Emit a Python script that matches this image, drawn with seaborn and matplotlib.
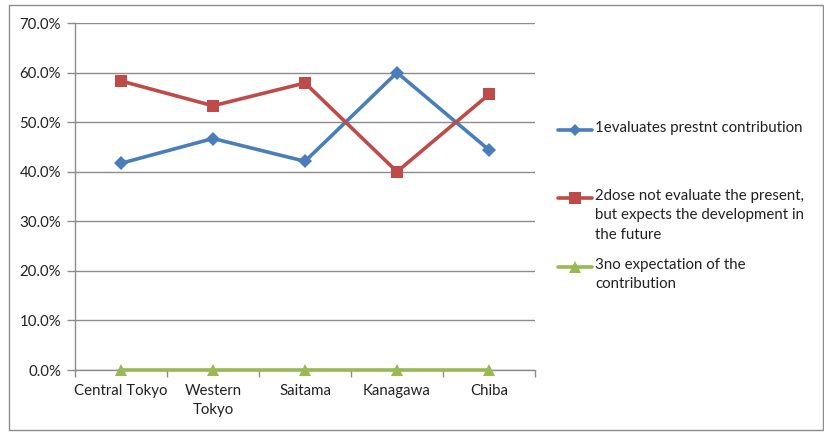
import matplotlib
matplotlib.use("Agg")
import matplotlib.pyplot as plt
import matplotlib.ticker as mticker
from matplotlib.lines import Line2D
from matplotlib.patches import Rectangle
import seaborn as sns
import pandas as pd

regions = ["Central Tokyo", "Western\nTokyo", "Saitama", "Kanagawa", "Chiba"]
evaluates_present = [41.7, 46.7, 42.1, 60.0, 44.4]
expects_future = [58.3, 53.3, 57.9, 40.0, 55.6]
no_expectation = [0.0, 0.0, 0.0, 0.0, 0.0]

series_names = [
    "1evaluates prestnt contribution",
    "2dose not evaluate the present,\nbut expects the development in\nthe future",
    "3no expectation of the\ncontribution",
]
series_values = [evaluates_present, expects_future, no_expectation]
colors = ["#4A7EBB", "#BE4B48", "#98B954"]
markers = ["D", "s", "^"]
marker_sizes = [7, 9, 9]

rows = []
for name, vals in zip(series_names, series_values):
    for i, (reg, v) in enumerate(zip(regions, vals)):
        rows.append({"series": name, "pos": i, "value": v})
df = pd.DataFrame(rows)

sns.set_theme(style="white")
plt.rcParams["font.family"] = ["Lato", "DejaVu Sans"]

W, H = 824, 432
fig = plt.figure(figsize=(W / 100, H / 100), dpi=100)
ax = fig.add_axes([75 / W, 1 - 370 / H, (535 - 75) / W, (370 - 23) / H])

for name, col, mk, ms in zip(series_names, colors, markers, marker_sizes):
    sub = df[df["series"] == name]
    sns.lineplot(data=sub, x="pos", y="value", ax=ax, color=col, lw=2.6,
                 marker=mk, markersize=ms, markeredgewidth=0, legend=False)
for ln in ax.lines:
    ln.set_clip_on(False)
    ln.set_zorder(3)

grid_col = "#8C8C8C"
ax.set_xlim(-0.5, 4.5)
ax.set_ylim(0, 70)
ax.set_yticks(range(0, 71, 10))
ax.yaxis.set_major_formatter(mticker.FuncFormatter(lambda v, p: f"{v:.1f}%"))
ax.set_xticks(range(len(regions)))
ax.set_xticklabels(regions, linespacing=1.5)
ax.set_xticks([i - 0.5 for i in range(len(regions) + 1)], minor=True)
ax.tick_params(axis="x", which="major", length=0, pad=10, labelsize=10.8, colors="#222222")
ax.tick_params(axis="x", which="minor", length=5, width=1, color=grid_col, direction="out", bottom=True)
ax.tick_params(axis="y", length=6, width=1, color=grid_col, direction="out", left=True,
               labelsize=10.8, colors="#222222", pad=4)
ax.set_xlabel("")
ax.set_ylabel("")
ax.yaxis.grid(True, color=grid_col, lw=1)
ax.set_axisbelow(True)
for s in ["top", "right"]:
    ax.spines[s].set_visible(False)
for s in ["left", "bottom"]:
    ax.spines[s].set_color(grid_col)
    ax.spines[s].set_linewidth(1)

# legend drawn beside the axes, handle aligned with each label's first line
def fx(px):
    return px / W

def fy(py):
    return 1 - py / H

legend_rows = [130, 198, 267]
for name, col, mk, ms, y in zip(series_names, colors, markers, marker_sizes, legend_rows):
    fig.add_artist(Line2D([fx(558), fx(592)], [fy(y), fy(y)], transform=fig.transFigure,
                          color=col, lw=2.6))
    fig.add_artist(Line2D([fx(575)], [fy(y)], transform=fig.transFigure, color=col,
                          marker=mk, markersize=ms - 1, markeredgewidth=0))
    fig.text(fx(595), fy(y - 9), name, transform=fig.transFigure, fontsize=10.8,
             color="#222222", va="top", ha="left", linespacing=1.5)

fig.add_artist(Rectangle((fx(9), fy(430)), fx(823) - fx(9), fy(5) - fy(430),
                         transform=fig.transFigure, fill=False, edgecolor="#8C8C8C", lw=1))

fig.savefig("out.png", dpi=100)
